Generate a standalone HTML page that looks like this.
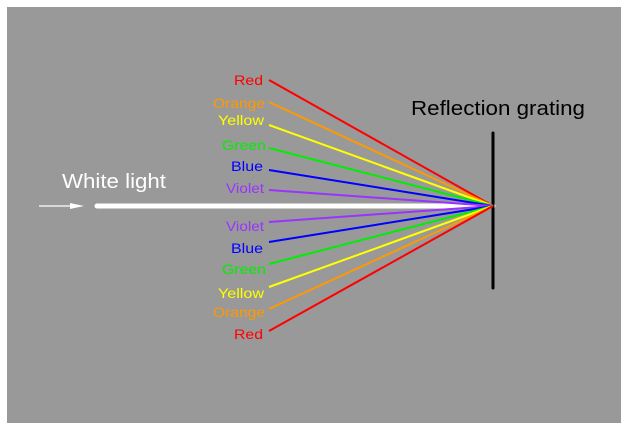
<!DOCTYPE html>
<html><head><style>body{margin:0;background:#fff}svg{display:block}</style></head><body>
<svg width="628" height="430" xmlns="http://www.w3.org/2000/svg" font-family="Liberation Sans, sans-serif">
<rect x="7" y="7" width="614" height="416" fill="#999999"/>
<line x1="97" y1="206" x2="493" y2="206" stroke="#fff" stroke-width="5" stroke-linecap="round"/>
<line x1="39" y1="206" x2="74" y2="206" stroke="#fff" stroke-width="1.2"/>
<polygon points="84,206 70,203 70,209" fill="#fff"/>
<text x="62" y="188" font-size="20" fill="#fff" textLength="104" lengthAdjust="spacingAndGlyphs">White light</text>
<text x="411" y="115" font-size="20" fill="#000" textLength="174" lengthAdjust="spacingAndGlyphs">Reflection grating</text>
<line x1="493" y1="133" x2="493" y2="288" stroke="#000" stroke-width="3" stroke-linecap="round"/>
<g stroke-width="2" fill="none">
<line x1="269" y1="80" x2="493" y2="206" stroke="#ff0000"/>
<line x1="269" y1="102" x2="493" y2="206" stroke="#ff9900"/>
<line x1="269" y1="125" x2="493" y2="206" stroke="#ffff00"/>
<line x1="269" y1="148" x2="493" y2="206" stroke="#00ee00"/>
<line x1="269" y1="170" x2="493" y2="206" stroke="#0000ff"/>
<line x1="269" y1="190" x2="493" y2="206" stroke="#9933ff"/>
<line x1="269" y1="222" x2="493" y2="206" stroke="#9933ff"/>
<line x1="269" y1="242" x2="493" y2="206" stroke="#0000ff"/>
<line x1="269" y1="264" x2="493" y2="206" stroke="#00ee00"/>
<line x1="269" y1="287" x2="493" y2="206" stroke="#ffff00"/>
<line x1="269" y1="309" x2="493" y2="206" stroke="#ff9900"/>
<line x1="269" y1="331" x2="493" y2="206" stroke="#ff0000"/>
</g>
<g font-size="14" lengthAdjust="spacingAndGlyphs">
<text x="234" y="85" fill="#ff0000" textLength="29" lengthAdjust="spacingAndGlyphs">Red</text>
<text x="213" y="108" fill="#ff9900" textLength="52" lengthAdjust="spacingAndGlyphs">Orange</text>
<text x="218" y="125" fill="#ffff00" textLength="46" lengthAdjust="spacingAndGlyphs">Yellow</text>
<text x="222" y="150" fill="#00ee00" textLength="44" lengthAdjust="spacingAndGlyphs">Green</text>
<text x="231" y="171" fill="#0000ff" textLength="32" lengthAdjust="spacingAndGlyphs">Blue</text>
<text x="226" y="193" fill="#9933ff" textLength="38" lengthAdjust="spacingAndGlyphs">Violet</text>
<text x="226" y="231" fill="#9933ff" textLength="38" lengthAdjust="spacingAndGlyphs">Violet</text>
<text x="231" y="253" fill="#0000ff" textLength="32" lengthAdjust="spacingAndGlyphs">Blue</text>
<text x="222" y="274" fill="#00ee00" textLength="44" lengthAdjust="spacingAndGlyphs">Green</text>
<text x="218" y="298" fill="#ffff00" textLength="46" lengthAdjust="spacingAndGlyphs">Yellow</text>
<text x="213" y="317" fill="#ff9900" textLength="52" lengthAdjust="spacingAndGlyphs">Orange</text>
<text x="234" y="339" fill="#ff0000" textLength="29" lengthAdjust="spacingAndGlyphs">Red</text>
</g>
</svg>
</body></html>
